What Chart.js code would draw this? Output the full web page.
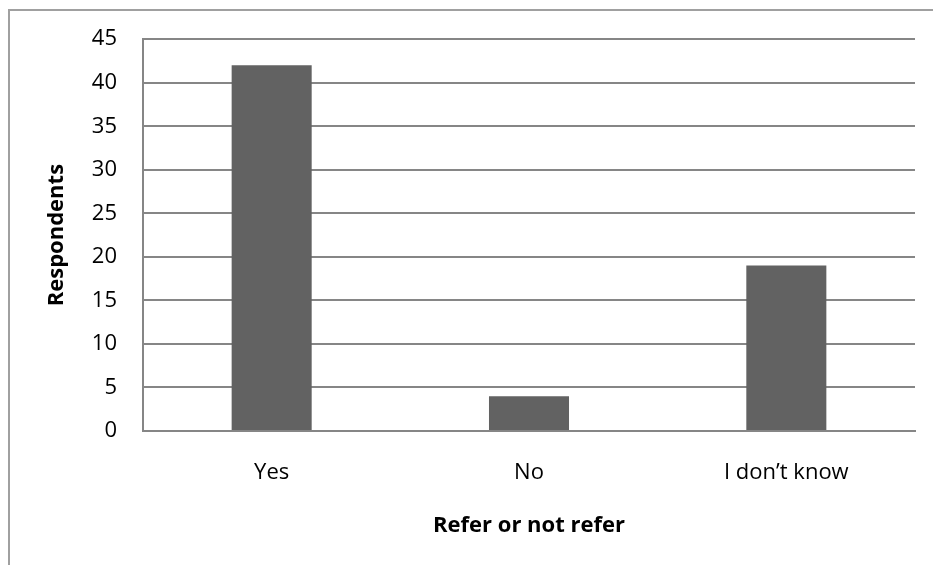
<!DOCTYPE html>
<html>
<head>
<meta charset="utf-8">
<script src="https://cdn.jsdelivr.net/npm/chart.js@4"></script>
<style>
  html, body { margin: 0; padding: 0; background: #fff; }
  #wrap { position: relative; width: 933px; height: 565px; overflow: hidden; }
  #frame { position: absolute; left: 8px; top: 9px; width: 940px; height: 580px; border: 2px solid #a0a0a0; box-sizing: border-box; }
  #chart { position: absolute; left: 0; top: 0; }
</style>
</head>
<body>
<div id="wrap">
  <div id="frame"></div>
  <canvas id="chart" width="933" height="565"></canvas>
</div>
<script>
  const categories = ['Yes', 'No', 'I don\u2019t know'];
  const respondents = [42, 4, 19];
  const yTicks = [0, 5, 10, 15, 20, 25, 30, 35, 40, 45];

  const font = { family: '"Open Sans", sans-serif', size: 22 };
  const boldFont = { family: font.family, size: 22, weight: 'bold' };
  const ctx = document.getElementById('chart');

  new Chart(ctx, {
    type: 'bar',
    data: {
      labels: categories,
      datasets: [{
        label: 'Respondents',
        data: respondents,
        backgroundColor: '#626262',
        borderWidth: 0,
        categoryPercentage: 1,
        barPercentage: 0.311
      }]
    },
    options: {
      responsive: false,
      animation: false,
      layout: { padding: { top: 38, right: 18, left: 0, bottom: 0 } },
      plugins: {
        legend: { display: false },
        tooltip: { enabled: false }
      },
      scales: {
        x: {
          afterFit: (scale) => { scale.height = 134; },
          grid: { display: false, drawTicks: false },
          border: { color: '#868686', width: 2 },
          ticks: { color: '#000', font: font, padding: 29 },
          title: {
            display: true,
            text: 'Refer or not refer',
            color: '#000',
            font: boldFont,
            padding: { top: 0, bottom: 26 }
          }
        },
        y: {
          min: 0,
          max: 45,
          afterFit: (scale) => { scale.width = 143; },
          afterBuildTicks: (scale) => { scale.ticks = yTicks.map(v => ({ value: v })); },
          grid: { color: '#868686', lineWidth: 2, drawTicks: false },
          border: { color: '#868686', width: 2 },
          ticks: { color: '#000', font: font, padding: 26 },
          title: {
            display: true,
            text: 'Respondents',
            color: '#000',
            font: boldFont,
            padding: { top: 44, bottom: 0 }
          }
        }
      }
    }
  });
</script>
</body>
</html>
